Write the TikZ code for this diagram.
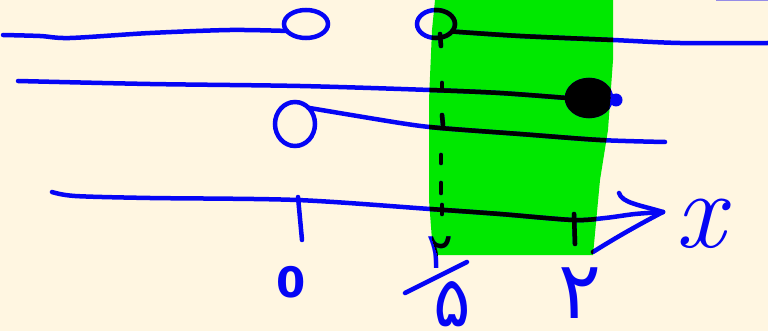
\documentclass[tikz,border=0pt]{standalone}
\usepackage{fontspec}
\usetikzlibrary{shapes.geometric}
\newfontfamily\fafont[Script=Arabic]{DejaVu Sans}
\definecolor{paper}{RGB}{255,246,225}
\definecolor{marker}{RGB}{0,232,0}
\definecolor{ink}{RGB}{5,5,245}
\definecolor{stray}{RGB}{150,140,230}
\tikzset{
  pen/.style={line width=4.5pt, line cap=round, line join=round},
  ring/.style={ellipse, draw, line width=4.5pt, inner sep=0pt, outer sep=0pt},
  lbl/.style={inner sep=0pt, outer sep=0pt, anchor=base},
}
\newcommand\allstrokes[1]{%
  \begin{scope}[draw=#1, text=#1]
    % first line and its open circle
    \node[ring, minimum width=44pt, minimum height=28pt] (c1) at (306,24) {};
    \draw[pen] plot[smooth] coordinates {(3,35) (40,36) (70,38) (150,33) (230,30) (c1.200)};
    % second open circle and the line leaving it to the right
    \node[ring, minimum width=38pt, minimum height=28pt] (c2) at (436,24) {};
    \draw[pen] plot[smooth] coordinates {(c2.-25) (520,36) (613,40) (680,43) (768,43)};
    % line ending on the filled dot
    \node[ring, fill=#1, minimum width=44pt, minimum height=36pt] (d) at (589,98) {};
    \fill[#1] (616,100) circle (6.5);
    \draw[pen] plot[smooth] coordinates {(18,81) (150,84) (300,86) (430,90) (500,93) (d.west)};
    % third open circle and its line
    \node[ring, minimum width=40pt, minimum height=44pt] (c3) at (295,124) {};
    \draw[pen] plot[smooth] coordinates {(c3.50) (400,123) (440,128) (520,134) (600,140) (665,142)};
    % the axis with its arrow
    \coordinate (ax0) at (52,192);
    \coordinate (tip) at (663,212);
    \draw[pen] plot[smooth] coordinates {(ax0) (75,196) (150,198) (297,200) (430,209) (500,214) (573,220) (605,218) (635,214) (tip)};
    \draw[pen] (619,193) .. controls (622,203) and (640,205) .. (tip);
    \draw[pen] (593,252) .. controls (615,238) and (640,224) .. (tip);
    % ticks
    \draw[pen] (298,197) -- (302,240);
    \draw[pen] (574,214) -- (575,244);
    \draw[pen] (440,34) -- (441,46);
    \draw[pen] (442,83) -- (442,90);
    \draw[pen] (442,115) -- (443,125);
    \draw[pen] (441,155) -- (441,163);
    \draw[pen] (441,183) -- (441,193);
    \draw[pen] (442,205) -- (442,214);
    % labels
    \node[lbl, font=\fafont\bfseries\fontsize{42}{42}\selectfont] (n0) at (291,297) {0};
    \node[lbl, font=\fafont\fontsize{50}{50}\selectfont] (n2a) at (440,268) {۲};
    \draw[pen] (405,293) -- (467,262);
    \node[lbl, font=\fafont\fontsize{70}{70}\selectfont] (n5) at (452,326) {۵};
    \node[lbl, font=\fafont\fontsize{80}{80}\selectfont] (n2b) at (580,318) {۲};
    \node[lbl, anchor=center, font=\fontsize{110}{110}\selectfont] (xl) at (703,224) {\textit{x}};
  \end{scope}}
\begin{document}
\begin{tikzpicture}[x=1pt, y=-1pt]
  \fill[paper] (0,0) rectangle (768,331);
  \useasboundingbox (0,0) rectangle (768,331);
  \def\greenarea{(435,0) -- (613,0) -- (613,60) -- (608,130) -- (600,180) -- (593,255) -- (437,255) -- (432,240) -- (429,200) -- (429,100) -- (432,30) -- cycle}
  \fill[marker] \greenarea;
  \draw[stray, line width=2pt] (716,0) -- (768,0);
  \allstrokes{ink}
  \begin{scope}
    \clip \greenarea;
    \allstrokes{black}
  \end{scope}
\end{tikzpicture}
\end{document}
